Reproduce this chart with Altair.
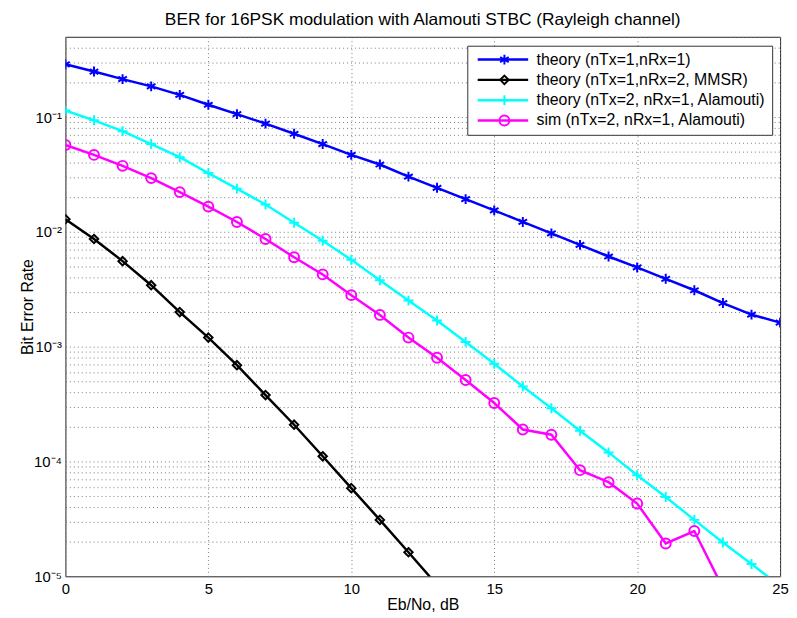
import altair as alt
import pandas as pd

ebno = list(range(26))

names = [
    "theory (nTx=1,nRx=1)",
    "theory (nTx=1,nRx=2, MMSR)",
    "theory (nTx=2, nRx=1, Alamouti)",
    "sim (nTx=2, nRx=1, Alamouti)",
]
colors = ["#0000ff", "#000000", "#00ffff", "#ff00ff"]
shapes = [
    "M0,-1L0,1M-0.866,-0.5L0.866,0.5M-0.866,0.5L0.866,-0.5",
    "M0,-0.85L0.85,0L0,0.85L-0.85,0Z",
    "M0,-1L0,1M-1,0L1,0",
    "circle",
]

ber_1x1 = [0.288, 0.249, 0.214, 0.185, 0.156, 0.128, 0.106, 0.0877, 0.0715, 0.0582,
           0.0468, 0.0386, 0.0303, 0.0242, 0.0193, 0.0154, 0.0122, 0.0097, 0.0077,
           0.0061, 0.0049, 0.0039, 0.0031, 0.0024, 0.0019, 0.00162]
ber_1x2 = [0.0129, 0.00867, 0.00556, 0.00343, 0.00200, 0.00120, 0.00069, 0.000379,
           0.000209, 0.000111, 5.86e-5, 3.10e-5, 1.62e-5, 8.4e-6]
ber_2x1 = [0.114, 0.0937, 0.0754, 0.0582, 0.0447, 0.0325, 0.0238, 0.0173, 0.0120,
           0.00838, 0.00571, 0.00379, 0.00252, 0.00169, 0.00110, 0.00071, 0.00045,
           0.000291, 0.000185, 0.000120, 7.6e-5, 4.9e-5, 3.1e-5, 1.97e-5, 1.28e-5, 8.2e-6]
ber_sim = [0.0571, 0.0468, 0.0376, 0.0294, 0.0222, 0.0166, 0.0122, 0.00867, 0.00601,
           0.00426, 0.00281, 0.00189, 0.00120, 0.00080, 0.000513, 0.000323, 0.000190,
           0.000171, 8.4e-5, 6.6e-5, 4.3e-5, 1.93e-5, 2.48e-5, 7.9e-6]

x_ticks = [0, 5, 10, 15, 20, 25]
y_major = [1e-5, 1e-4, 1e-3, 1e-2, 1e-1]

rows = []
for name, vals in zip(names, [ber_1x1, ber_1x2, ber_2x1, ber_sim]):
    for x, v in zip(ebno, vals):
        rows.append({"x": x, "ber": v, "series": name})
df = pd.DataFrame(rows)

y_grid = []
for m in y_major:
    for k in range(1, 10):
        v = m * k
        if v <= 0.5:
            y_grid.append(v)

label_expr = (
    "datum.value == 0.1 ? '10\u207b\u00b9' : datum.value == 0.01 ? '10\u207b\u00b2' : "
    "datum.value == 0.001 ? '10\u207b\u00b3' : datum.value == 0.0001 ? '10\u207b\u2074' : "
    "datum.value == 0.00001 ? '10\u207b\u2075' : ''"
)

FONT = "Liberation Sans"

x_enc = alt.X(
    "x:Q",
    scale=alt.Scale(domain=[0, 25], nice=False),
    axis=alt.Axis(values=x_ticks, title="Eb/No, dB", grid=True, ticks=False, domain=False,
                  labelFlush=False, labelPadding=5, labelFontSize=15, titleFontSize=16,
                  titleFontWeight="normal", titleY=29, titleBaseline="middle"),
)
y_enc = alt.Y(
    "ber:Q",
    scale=alt.Scale(type="log", domain=[1e-5, 0.5], nice=False),
    axis=alt.Axis(values=y_grid, labelExpr=label_expr, title="Bit Error Rate", grid=True,
                  ticks=False, domain=False, labelOverlap=False, labelPadding=4,
                  labelFontSize=15, titleFontSize=16, titleFontWeight="normal",
                  titleX=-38, titleY=272.5, titleBaseline="middle"),
)

leg_lines = alt.Legend(
    title=None, orient="none", legendX=406, legendY=9, symbolType="stroke",
    symbolSize=2601, symbolStrokeWidth=2.5, clipHeight=16, rowPadding=4.5, padding=6,
    symbolOffset=3, labelOffset=7, labelFontSize=16, labelFont=FONT, labelColor="black",
    fillColor="white", strokeColor="#333333", labelLimit=400,
)
leg_marks = alt.Legend(
    title=None, orient="none", legendX=406, legendY=9, symbolSize=100,
    symbolStrokeWidth=2, clipHeight=16, rowPadding=4.5, padding=6, symbolOffset=23.5,
    labelOffset=7, labelFontSize=16, labelFont=FONT, labelExpr="''", labelLimit=400,
)

lines = alt.Chart(df).mark_line(clip=True, strokeWidth=2.5).encode(
    x=x_enc,
    y=y_enc,
    color=alt.Color("series:N", sort=names, scale=alt.Scale(range=colors), legend=leg_lines),
)

points = alt.Chart(df).mark_point(clip=True, filled=False, size=100, strokeWidth=2, opacity=1).encode(
    x=x_enc,
    y=y_enc,
    shape=alt.Shape("series:N", scale=alt.Scale(domain=names, range=shapes), legend=leg_marks),
    stroke=alt.Stroke("series:N", scale=alt.Scale(domain=names, range=colors), legend=leg_marks),
)

chart = alt.layer(lines, points).properties(
    width=722,
    height=545,
    autosize=alt.AutoSizeParams(type="none"),
    padding={"left": 58, "top": 26, "right": 9, "bottom": 36},
    title=alt.Title("BER for 16PSK modulation with Alamouti STBC (Rayleigh channel)",
                    fontSize=17.5, font=FONT, fontWeight="normal", offset=1, color="black"),
).configure(
    font=FONT,
).configure_view(
    stroke="#222222", strokeWidth=1,
).configure_axis(
    gridDash=[1, 3], gridColor="#7a7a7a", gridWidth=1, gridOpacity=1,
    labelColor="black", titleColor="black", labelFont=FONT, titleFont=FONT,
)

chart.save("out.html", embed_options={"renderer": "svg", "actions": False})
